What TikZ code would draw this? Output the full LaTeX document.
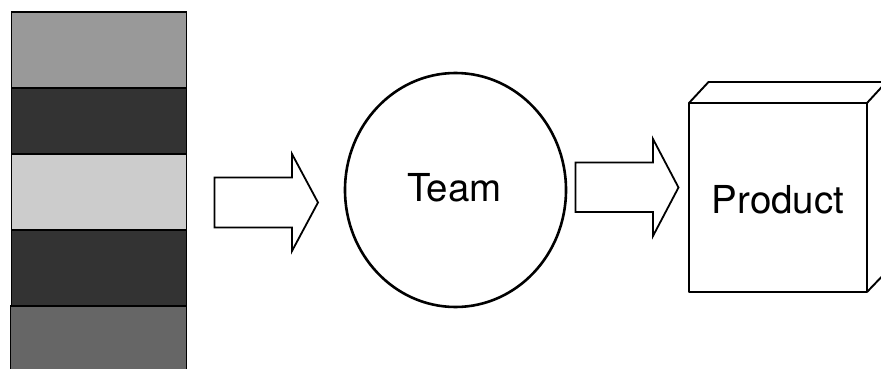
\documentclass[tikz,border=0pt]{standalone}
\usepackage{fontspec}
\setmainfont{TeX Gyre Heros}
\usetikzlibrary{shapes.geometric}
\definecolor{bandA}{gray}{0.60}
\definecolor{bandB}{gray}{0.20}
\definecolor{bandC}{gray}{0.80}
\definecolor{bandD}{gray}{0.40}
\tikzset{
  band/.style={draw=black,line width=1.9pt},
  blockarrow/.style={draw=black,line width=1.8pt,fill=white,line join=miter},
  outline/.style={draw=black,line width=1.9pt,line join=round},
  label/.style={font=\fontsize{38.5}{44}\selectfont,text=black,inner sep=0pt}
}
\begin{document}
\begin{tikzpicture}[x=1pt,y=-1pt]
\useasboundingbox (0,0) rectangle (881,369);
\clip (0,0) rectangle (881,369);
% stack
\path[band,fill=bandA] (11.5,12) rectangle (186.5,88);
\path[band,fill=bandB] (11.5,88) rectangle (186.5,154);
\path[band,fill=bandC] (11.5,154) rectangle (186.5,230);
\path[band,fill=bandB] (11.5,230) rectangle (186.5,306);
\path[band,fill=bandD] (10.5,306) rectangle (186.5,380);
% arrows
\path[blockarrow] (214.5,177.5) -- (292,177.5) -- (292,154) -- (318,202.5) -- (292,251) -- (292,227.5) -- (214.5,227.5) -- cycle;
\path[blockarrow] (575.5,162.5) -- (653,162.5) -- (653,139) -- (678.5,187.5) -- (653,236) -- (653,212) -- (575.5,212) -- cycle;
% team
\node[ellipse,draw=black,line width=2.6pt,minimum width=221pt,minimum height=234pt,inner sep=0pt] (team) at (455.5,190) {};
\node[label] (teamlabel) at (454.5,187.5) {Team};
% product box
\path[outline] (689,103) rectangle (867,292);
\path[outline] (689,103) -- (708.5,82) -- (890,82);
\path[outline] (867,103) -- (890,78);
\path[outline] (867,292) -- (890,268);
\node[label] (productlabel) at (778,199.5) {Product};
\end{tikzpicture}
\end{document}
